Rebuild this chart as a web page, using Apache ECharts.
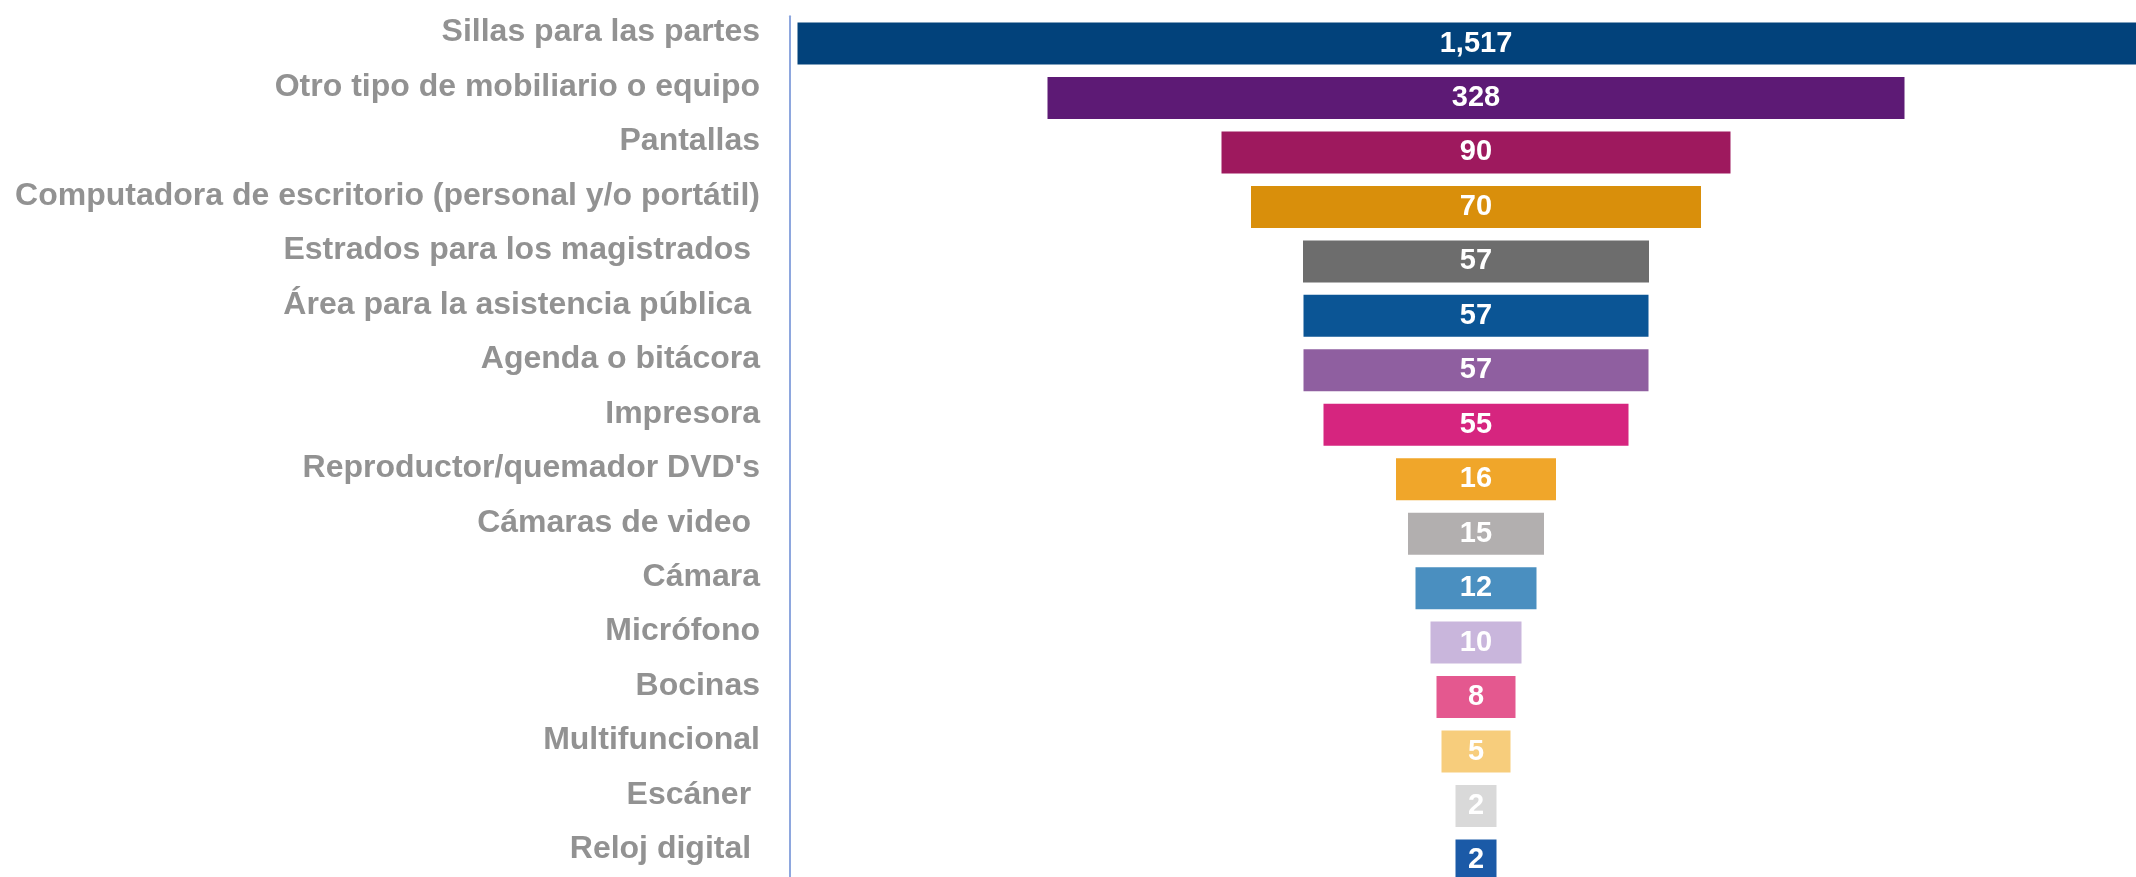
<!DOCTYPE html>
<html>
<head>
<meta charset="utf-8">
<script src="https://cdn.jsdelivr.net/npm/echarts@6/dist/echarts.min.js"></script>
<style>
html,body{margin:0;padding:0;background:#ffffff;}
#chart{width:2136px;height:877px;}
</style>
</head>
<body>
<div id="chart"></div>
<script>
// Categories (top to bottom)
var categories = [
  "Sillas para las partes",
  "Otro tipo de mobiliario o equipo",
  "Pantallas",
  "Computadora de escritorio (personal y/o portátil)",
  "Estrados para los magistrados ",
  "Área para la asistencia pública ",
  "Agenda o bitácora",
  "Impresora",
  "Reproductor/quemador DVD's",
  "Cámaras de video ",
  "Cámara",
  "Micrófono",
  "Bocinas",
  "Multifuncional",
  "Escáner ",
  "Reloj digital "
];
// Values shown on the bars
var values = [1517, 328, 90, 70, 57, 57, 57, 55, 16, 15, 12, 10, 8, 5, 2, 2];
// Visual funnel length of each bar (relative units)
var barLength = [1357, 857, 509, 450, 346, 345, 345, 305, 160, 136, 121, 91, 79, 69, 41, 41];
// Bar colours
var colors = ["#02427b", "#5d1a75", "#9e195e", "#d98f0b", "#6d6d6d", "#0b5595", "#8f5fa0", "#d6257f",
              "#f0a62a", "#b2afaf", "#4a8fc0", "#c9b6dc", "#e4588f", "#f7cd7c", "#d9d9d9", "#1b5aa7"];

var chart = echarts.init(document.getElementById('chart'));

function itemData(sign) {
  return barLength.map(function (v, i) {
    return { value: sign * v / 2, itemStyle: { color: colors[i] } };
  });
}

chart.setOption({
  animation: false,
  grid: { left: 790, width: 1372, top: 16.3, height: 871.4, containLabel: false, outerBoundsMode: 'none' },
  xAxis: {
    type: 'value', min: -686, max: 686,
    show: false
  },
  yAxis: {
    type: 'category',
    data: categories,
    inverse: true,
    axisLine: { show: true, onZero: false, lineStyle: { color: '#8ea7de', width: 2 } },
    axisTick: { show: false },
    splitLine: { show: false },
    axisLabel: {
      color: '#929292',
      fontSize: 32,
      fontWeight: 'bold',
      fontFamily: 'Liberation Sans, Arial, sans-serif',
      margin: 30,
      verticalAlign: 'middle',
      lineHeight: 22,
      formatter: function (v) { return v + '\n '; }
    }
  },
  series: [
    {
      type: 'bar', stack: 'funnel', barWidth: 42,
      data: itemData(-1),
      silent: true
    },
    {
      type: 'bar', stack: 'funnel', barWidth: 42,
      data: itemData(1),
      silent: true,
      label: {
        show: true,
        position: [0, '50%'],
        align: 'center',
        verticalAlign: 'middle',
        color: '#ffffff',
        fontSize: 29,
        fontWeight: 'bold',
        fontFamily: 'Liberation Sans, Arial, sans-serif',
        formatter: function (p) { return values[p.dataIndex].toLocaleString('en-US'); }
      }
    }
  ]
});
</script>
</body>
</html>
